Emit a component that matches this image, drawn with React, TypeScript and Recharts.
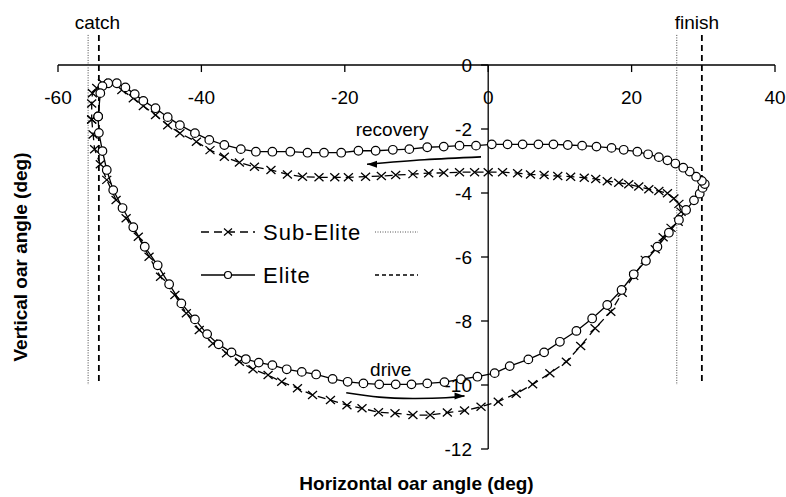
import { ComposedChart, Legend, Line, ReferenceDot, ReferenceLine, XAxis, YAxis } from "recharts";

const FONT = "Arial, 'Liberation Sans', sans-serif";

// oar angle loops (horizontal deg, vertical deg), drive first then recovery
const elitePoints: [number, number][] = [
  [-54.4, -1.61], [-54.3, -2.12], [-53.8, -2.69], [-53.2, -3.28], [-52.3, -3.91], [-51.0, -4.47],
  [-49.5, -5.07], [-47.9, -5.68], [-46.1, -6.26], [-44.5, -6.85], [-42.8, -7.45], [-40.9, -7.95],
  [-39.2, -8.41], [-37.6, -8.73], [-35.8, -8.98], [-33.8, -9.19], [-32.0, -9.3], [-30.1, -9.38],
  [-28.1, -9.51], [-26.0, -9.59], [-24.0, -9.67], [-21.7, -9.81], [-19.6, -9.9], [-17.4, -9.95],
  [-15.2, -9.98], [-12.9, -9.98], [-10.7, -9.98], [-8.5, -9.95], [-6.1, -9.91], [-3.8, -9.82],
  [-1.5, -9.74], [0.9, -9.63], [3.0, -9.41], [5.6, -9.2], [7.8, -8.98], [10.0, -8.65],
  [12.3, -8.31], [14.5, -7.92], [16.6, -7.5], [18.6, -7.03], [20.3, -6.54], [22.0, -6.12],
  [23.6, -5.68], [25.2, -5.24], [26.6, -4.84], [27.6, -4.53], [28.7, -4.23], [29.5, -4.02],
  [29.9, -3.84], [30.2, -3.72], [29.8, -3.62], [29.0, -3.49], [28.1, -3.33], [27.2, -3.21],
  [26.1, -3.08], [25.0, -2.98], [23.8, -2.88], [22.3, -2.79], [20.8, -2.71], [18.9, -2.65],
  [17.2, -2.59], [15.1, -2.55], [13.1, -2.52], [11.1, -2.5], [9.1, -2.48], [7.0, -2.48],
  [4.8, -2.48], [2.7, -2.48], [0.5, -2.48], [-1.7, -2.52], [-4.0, -2.52], [-6.2, -2.55],
  [-8.5, -2.57], [-11.0, -2.63], [-13.3, -2.65], [-15.7, -2.68], [-18.1, -2.68], [-20.5, -2.74],
  [-22.9, -2.74], [-25.2, -2.74], [-27.6, -2.71], [-30.1, -2.71], [-32.4, -2.71], [-34.5, -2.63],
  [-36.8, -2.5], [-38.9, -2.34], [-40.9, -2.13], [-43.0, -1.88], [-44.7, -1.63], [-46.4, -1.35],
  [-48.1, -1.12], [-49.3, -0.91], [-50.6, -0.7], [-51.8, -0.57], [-53.0, -0.57], [-53.8, -0.66],
  [-54.1, -0.88], [-54.4, -1.61]
];

const subElitePoints: [number, number][] = [
  [-55.3, -1.7], [-55.1, -2.17], [-54.9, -2.63], [-54.1, -3.1], [-53.2, -3.59], [-51.9, -4.22],
  [-50.5, -4.79], [-48.8, -5.37], [-47.3, -5.99], [-45.7, -6.62], [-43.7, -7.19], [-42.1, -7.76],
  [-40.3, -8.28], [-38.4, -8.7], [-36.5, -9.01], [-34.7, -9.27], [-32.8, -9.51], [-30.7, -9.69],
  [-28.8, -9.9], [-26.6, -10.1], [-24.5, -10.31], [-22.0, -10.47], [-19.7, -10.63], [-17.6, -10.73],
  [-15.3, -10.85], [-13.0, -10.88], [-10.5, -10.94], [-8.1, -10.94], [-5.7, -10.86], [-3.3, -10.8],
  [-1.0, -10.68], [1.4, -10.52], [3.9, -10.27], [6.2, -9.98], [8.6, -9.63], [10.9, -9.27],
  [12.9, -8.78], [14.9, -8.23], [17.1, -7.71], [18.7, -7.12], [20.3, -6.59], [21.9, -6.09],
  [23.3, -5.76], [24.4, -5.38], [25.5, -5.09], [26.5, -4.9], [26.9, -4.59], [26.6, -4.34],
  [25.9, -4.17], [25.0, -4.01], [23.8, -3.94], [22.4, -3.88], [21.0, -3.8], [19.6, -3.73],
  [18.2, -3.68], [16.6, -3.63], [15.0, -3.56], [13.4, -3.52], [11.5, -3.49], [9.7, -3.47],
  [7.8, -3.44], [5.9, -3.42], [4.1, -3.38], [2.0, -3.35], [0.0, -3.35], [-1.9, -3.35],
  [-4.0, -3.35], [-6.2, -3.37], [-8.3, -3.38], [-10.5, -3.41], [-12.9, -3.44], [-14.9, -3.47],
  [-17.1, -3.49], [-19.5, -3.51], [-21.4, -3.51], [-23.6, -3.51], [-25.9, -3.49], [-28.0, -3.42],
  [-30.3, -3.28], [-32.6, -3.18], [-34.7, -3.05], [-36.8, -2.87], [-38.8, -2.66], [-40.7, -2.4],
  [-43.0, -2.13], [-44.7, -1.88], [-46.4, -1.56], [-48.1, -1.28], [-49.5, -1.04], [-51.1, -0.78],
  [-52.3, -0.59], [-53.8, -0.56], [-54.6, -0.72], [-55.2, -0.88], [-55.3, -1.2], [-55.3, -1.7]
];

const recoveryArrow: [number, number][] = [[-1.0, -2.87], [-8.9, -2.96], [-16.9, -3.1]];
const driveArrow: [number, number][] = [[-19.8, -10.24], [-15.2, -10.38], [-10.5, -10.42], [-5.9, -10.4], [-3.3, -10.34]];

const xTicks = [-60, -40, -20, 0, 20, 40];
const yTicks = [0, -2, -4, -6, -8, -10, -12];

// catch / finish angles: dotted = Sub-Elite, dashed = Elite
const subEliteCatchFinish = [-55.8, 26.3];
const eliteCatchFinish = [-54.3, 29.8];
const phaseLabels = [
  { text: "catch", x: -54.5 },
  { text: "finish", x: 29.1 }
];
const strokeLabels = [
  { text: "recovery", x: -13.4, y: -2.0 },
  { text: "drive", x: -13.6, y: -9.51 }
];
const legendOrder = ["Sub-Elite", "Elite"];

const toRows = (pts: [number, number][]) => pts.map(([x, y]) => ({ x, y }));

const crossDot = (props: any) => {
  const { cx, cy, index } = props;
  if (cx == null || cy == null) return <g key={`s${index}`} />;
  return (
    <path
      key={`s${index}`}
      d={`M${cx - 4.5},${cy - 4}L${cx + 4.5},${cy + 4}M${cx - 4.5},${cy + 4}L${cx + 4.5},${cy - 4}`}
      stroke="#000"
      strokeWidth={1.3}
      fill="none"
    />
  );
};

const circleDot = (props: any) => {
  const { cx, cy, index } = props;
  if (cx == null || cy == null) return <g key={`e${index}`} />;
  return <circle key={`e${index}`} cx={cx} cy={cy} r={4.3} fill="#fff" stroke="#000" strokeWidth={1.2} />;
};

const arrowHead = (count: number, dir: 1 | -1) => (props: any) => {
  const { cx, cy, index } = props;
  if (index !== count - 1 || cx == null) return <g key={`a${index}`} />;
  return (
    <path
      key={`a${index}`}
      d={`M${cx},${cy}L${cx - dir * 10},${cy - 3.5}L${cx - dir * 10},${cy + 3.5}Z`}
      fill="#000"
      stroke="none"
    />
  );
};

function LegendBox({ payload }: any) {
  const items = (payload ?? [])
    .filter((p: any) => legendOrder.includes(p.value))
    .sort((a: any, b: any) => legendOrder.indexOf(a.value) - legendOrder.indexOf(b.value));
  return (
    <svg width={240} height={86} style={{ display: "block", fontFamily: FONT }}>
      {items.map((item: any, i: number) => {
        const y = 22 + i * 43;
        const isSub = item.value === "Sub-Elite";
        return (
          <g key={item.value}>
            <line x1={6} x2={60} y1={y} y2={y} stroke="#000" strokeWidth={1.3} strokeDasharray={isSub ? "8 5" : undefined} />
            {isSub ? (
              <path d={`M${29},${y - 3.5}L${37},${y + 3.5}M${29},${y + 3.5}L${37},${y - 3.5}`} stroke="#000" strokeWidth={1.2} />
            ) : (
              <circle cx={33} cy={y} r={3.5} fill="#fff" stroke="#000" strokeWidth={1.2} />
            )}
            <text x={68} y={y + 8} fontSize={22} fill="#000" letterSpacing={1}>
              {item.value}
            </text>
            <line
              x1={180}
              x2={223}
              y1={y}
              y2={y}
              stroke={isSub ? "#555" : "#000"}
              strokeWidth={isSub ? 1 : 1.3}
              strokeDasharray={isSub ? "1 1.5" : "4 3"}
            />
          </g>
        );
      })}
    </svg>
  );
}

export default function App() {
  const markTop = 0.94;
  const markBottom = -10;
  return (
    <div style={{ position: "absolute", left: 0, top: 0, fontFamily: FONT, background: "#fff" }}>
      <ComposedChart width={786} height={497} margin={{ top: 65, right: 11, bottom: 0, left: 0 }}>
        <XAxis
          type="number"
          dataKey="x"
          domain={[-60, 40]}
          height={48}
          axisLine={false}
          tickLine={false}
          tick={false}
          label={{ value: "Horizontal oar angle (deg)", position: "insideBottom", offset: 7, fontSize: 19, fontWeight: "bold", fill: "#000" }}
        />
        <YAxis
          type="number"
          dataKey="y"
          domain={[-12, 0]}
          width={58}
          axisLine={false}
          tickLine={false}
          tick={false}
          label={{
            value: "Vertical oar angle (deg)",
            position: "insideLeft",
            angle: -90,
            offset: 20,
            fontSize: 19,
            fontWeight: "bold",
            fill: "#000",
            style: { textAnchor: "middle" }
          }}
        />

        {/* axes crossing at the origin */}
        <ReferenceLine y={0} stroke="#000" strokeWidth={1.3} />
        <ReferenceLine x={0} stroke="#000" strokeWidth={1.3} />
        {xTicks.map((t) => (
          <ReferenceLine
            key={`xt${t}`}
            segment={[{ x: t, y: 0 }, { x: t, y: -0.22 }]}
            stroke="#000"
            strokeWidth={1.3}
            label={{ value: String(t), position: "bottom", offset: 18, fontSize: 19, fill: "#000" }}
          />
        ))}
        {yTicks.map((t) => (
          <ReferenceLine
            key={`yt${t}`}
            segment={[{ x: -1, y: t }, { x: 0, y: t }]}
            stroke="#000"
            strokeWidth={1.3}
            label={{ value: String(t), position: "left", offset: 9, fontSize: 19, fill: "#000" }}
          />
        ))}

        {subEliteCatchFinish.map((x) => (
          <ReferenceLine
            key={`sd${x}`}
            segment={[{ x, y: markTop }, { x, y: markBottom }]}
            ifOverflow="visible"
            stroke="#444"
            strokeWidth={1}
            strokeDasharray="1 1.5"
          />
        ))}
        {eliteCatchFinish.map((x) => (
          <ReferenceLine
            key={`ed${x}`}
            segment={[{ x, y: markTop }, { x, y: markBottom }]}
            ifOverflow="visible"
            stroke="#000"
            strokeWidth={1.8}
            strokeDasharray="6 4"
          />
        ))}
        {phaseLabels.map((p) => (
          <ReferenceDot
            key={p.text}
            x={p.x}
            y={markTop}
            r={0}
            fill="none"
            stroke="none"
            ifOverflow="visible"
            label={{ value: p.text, position: "top", offset: 6, fontSize: 19, fill: "#000" }}
          />
        ))}
        {strokeLabels.map((p) => (
          <ReferenceDot
            key={p.text}
            x={p.x}
            y={p.y}
            r={0}
            fill="none"
            stroke="none"
            label={{ value: p.text, position: "center", fontSize: 19, fill: "#000" }}
          />
        ))}

        <Line
          data={toRows(recoveryArrow)}
          dataKey="y"
          type="natural"
          stroke="#000"
          strokeWidth={1.6}
          dot={arrowHead(recoveryArrow.length, -1)}
          legendType="none"
          isAnimationActive={false}
        />
        <Line
          data={toRows(driveArrow)}
          dataKey="y"
          type="natural"
          stroke="#000"
          strokeWidth={1.6}
          dot={arrowHead(driveArrow.length, 1)}
          legendType="none"
          isAnimationActive={false}
        />
        <Line
          data={toRows(subElitePoints)}
          dataKey="y"
          name="Sub-Elite"
          type="linear"
          stroke="#000"
          strokeWidth={1.3}
          strokeDasharray="8 5"
          dot={crossDot}
          isAnimationActive={false}
        />
        <Line
          data={toRows(elitePoints)}
          dataKey="y"
          name="Elite"
          type="linear"
          stroke="#000"
          strokeWidth={1.3}
          dot={circleDot}
          isAnimationActive={false}
        />
        <Legend
          layout="horizontal"
          align="center"
          verticalAlign="middle"
          content={LegendBox}
          wrapperStyle={{ left: 195, top: 210, width: 240, height: 86 }}
        />
      </ComposedChart>
    </div>
  );
}
